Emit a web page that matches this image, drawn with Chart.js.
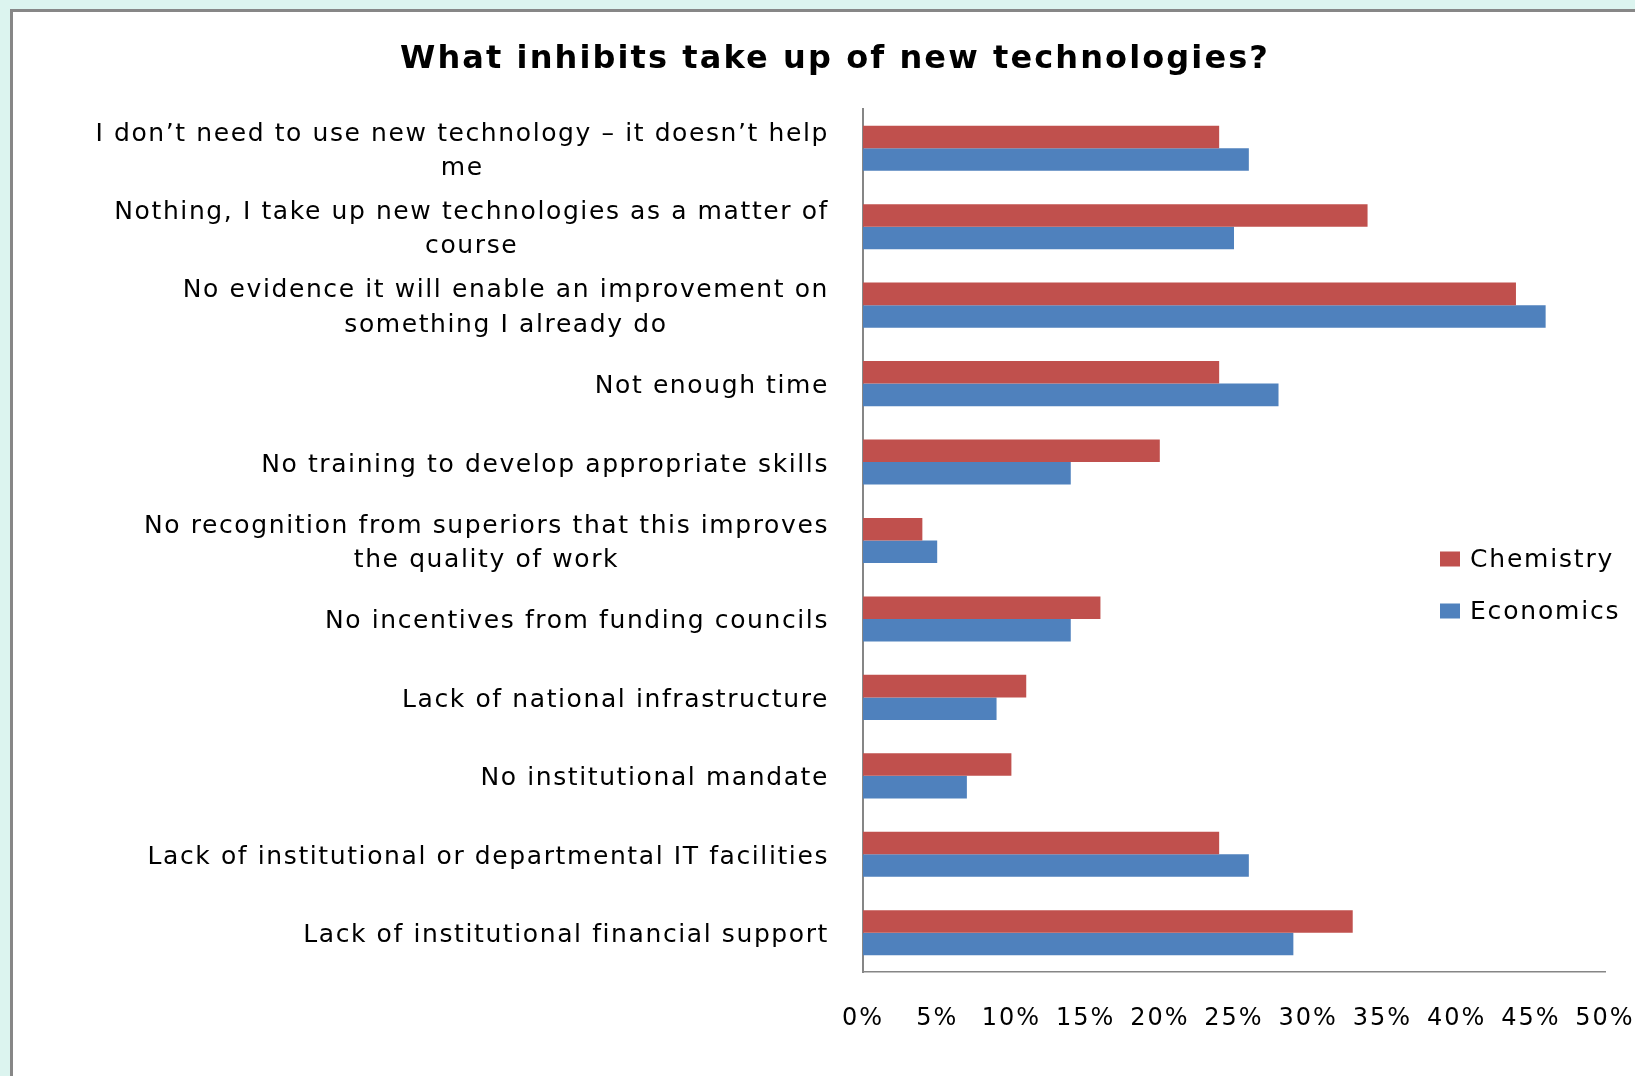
<!DOCTYPE html>
<html>
<head>
<meta charset="utf-8">
<title>What inhibits take up of new technologies?</title>
<script src="https://cdn.jsdelivr.net/npm/chart.js@4/dist/chart.umd.min.js"></script>
<style>
  html, body { margin: 0; padding: 0; width: 1635px; height: 1076px; overflow: hidden; background: #dcf4ef; }
  .frame {
    position: absolute; left: 10px; top: 9px; right: -20px; bottom: -20px;
    border-left: 3px solid #878787; border-top: 3px solid #878787; background: #fff;
  }
  #chart { position: absolute; left: 0; top: 0; }
</style>
</head>
<body>
<div class="frame"></div>
<canvas id="chart" width="1635" height="1076"></canvas>
<script>
'use strict';

// Survey answers, listed top to bottom
var categories = [
  ['I don\u2019t need to use new technology \u2013 it doesn\u2019t help', 'me'],
  ['Nothing, I take up new technologies as a matter of', 'course'],
  ['No evidence it will enable an improvement on', 'something I already do'],
  'Not enough time',
  'No training to develop appropriate skills',
  ['No recognition from superiors that this improves', 'the quality of work'],
  'No incentives from funding councils',
  'Lack of national infrastructure',
  'No institutional mandate',
  'Lack of institutional or departmental IT facilities',
  'Lack of institutional financial support'
];

// Share of respondents (%)
var chemistry = [24, 34, 44, 24, 20, 4, 16, 11, 10, 24, 33];
var economics = [26, 25, 46, 28, 14, 5, 14, 9, 7, 26, 29];

var xTicks = [0, 5, 10, 15, 20, 25, 30, 35, 40, 45, 50];

var TITLE = 'What inhibits take up of new technologies?';
var RED = '#c0504d';
var BLUE = '#4f81bd';
var AXIS = '#868686';

// All the text is drawn here so the spacing can be set per block
var textPlugin = {
  id: 'chartText',
  afterDraw: function (chart) {
    var ctx = chart.ctx;
    var xScale = chart.scales.x;
    var yScale = chart.scales.y;
    var area = chart.chartArea;

    ctx.save();
    ctx.fillStyle = '#000';
    ctx.textBaseline = 'middle';

    // title
    ctx.font = 'bold 32px "DejaVu Sans"';
    ctx.letterSpacing = '2.1px';
    ctx.textAlign = 'center';
    ctx.fillText(TITLE, 835, 60);

    // category labels, wrapped lines centred on each other
    ctx.font = '25px "DejaVu Sans"';
    ctx.letterSpacing = '1.6px';
    var right = area.left - 34;
    var lineH = 34.4;
    var labels = chart.data.labels;
    for (var i = 0; i < labels.length; i++) {
      var lines = Array.isArray(labels[i]) ? labels[i] : [labels[i]];
      var y = yScale.getPixelForTick(i) + 3;
      if (lines.length === 1) {
        ctx.textAlign = 'right';
        ctx.fillText(lines[0], right, y);
        continue;
      }
      var maxW = 0;
      for (var j = 0; j < lines.length; j++) {
        maxW = Math.max(maxW, ctx.measureText(lines[j]).width);
      }
      ctx.textAlign = 'center';
      for (var k = 0; k < lines.length; k++) {
        ctx.fillText(lines[k], right - maxW / 2, y + (k - (lines.length - 1) / 2) * lineH);
      }
    }

    // percentage ticks
    ctx.font = '24px "DejaVu Sans"';
    ctx.letterSpacing = '2px';
    ctx.textAlign = 'center';
    for (var t = 0; t < xScale.ticks.length; t++) {
      var v = xScale.ticks[t].value;
      ctx.fillText(v + '%', xScale.getPixelForValue(v), area.bottom + 47);
    }

    // legend
    ctx.font = '25px "DejaVu Sans"';
    ctx.letterSpacing = '1.8px';
    ctx.textAlign = 'left';
    var sets = chart.data.datasets;
    for (var d = 0; d < sets.length; d++) {
      var ly = 559 + d * 52;
      ctx.fillStyle = sets[d].backgroundColor;
      ctx.fillRect(1440, ly - 7.5, 20, 15);
      ctx.fillStyle = '#000';
      ctx.fillText(sets[d].label, 1470, ly + 1);
    }
    ctx.restore();
  }
};

var ctx = document.getElementById('chart').getContext('2d');
var chart = new Chart(ctx, {
  type: 'bar',
  data: {
    labels: categories,
    datasets: [{
      label: 'Chemistry',
      data: chemistry,
      backgroundColor: RED,
      borderWidth: 0
    }, {
      label: 'Economics',
      data: economics,
      backgroundColor: BLUE,
      borderWidth: 0
    }]
  },
  options: {
    indexAxis: 'y',
    responsive: false,
    animation: false,
    layout: {
      padding: { top: 109, right: 30, bottom: 0, left: 0 }
    },
    datasets: {
      bar: {
        categoryPercentage: 0.575,
        barPercentage: 1
      }
    },
    plugins: {
      legend: { display: false },
      title: { display: false },
      tooltip: { enabled: false }
    },
    scales: {
      x: {
        min: 0,
        max: 50,
        afterBuildTicks: function (scale) {
          scale.ticks = xTicks.map(function (v) { return { value: v }; });
        },
        afterFit: function (scale) { scale.height = 104; },
        ticks: { display: false },
        grid: { display: false, drawTicks: false },
        border: { display: true, color: AXIS, width: 1.5 }
      },
      y: {
        afterFit: function (scale) { scale.width = 863; },
        ticks: { display: false },
        grid: { display: false, drawTicks: false },
        border: { display: true, color: AXIS, width: 2 }
      }
    }
  },
  plugins: [textPlugin]
});
</script>
</body>
</html>
